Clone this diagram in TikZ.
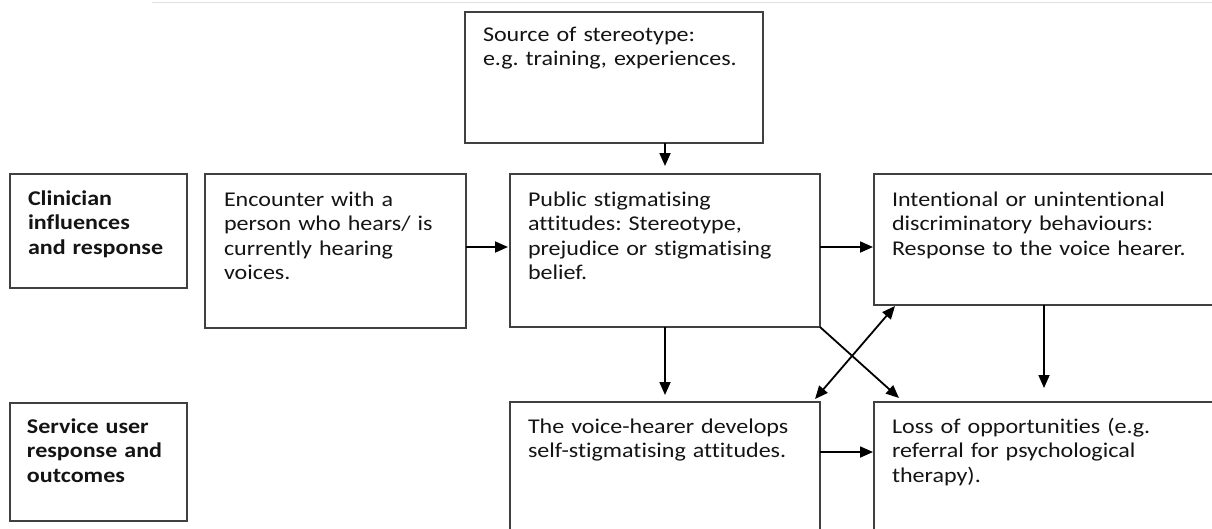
\documentclass[tikz,border=0pt]{standalone}
\usepackage{fontspec}
\setmainfont{Carlito}[FakeStretch=1.145, Ligatures=NoCommon]
\usetikzlibrary{arrows.meta,calc}
\tikzset{
  boxst/.style={draw=black!75, line width=1.2pt, anchor=north west, inner sep=0pt, outer sep=0pt},
  txt/.style={anchor=base west, inner sep=0pt, outer sep=0pt, align=left, text width=400pt,
    text=black!92, font=\fontsize{21}{24.5}\selectfont\frenchspacing},
  btxt/.style={txt, font=\fontsize{21}{24.5}\selectfont\frenchspacing\bfseries},
  arr/.style={line width=1.8pt, -{Triangle[length=13pt,width=11pt]}},
  darr/.style={line width=1.8pt, {Triangle[length=13pt,width=11pt]}-{Triangle[length=13pt,width=11pt]}}
}
\begin{document}
\begin{tikzpicture}[x=1pt,y=-1pt]
\useasboundingbox (0,0) rectangle (1212,528);
\clip (0,0) rectangle (1212,528);
% faint rule at the top
\draw[black!12, line width=1pt] (152,2) -- (1212,2);
% boxes
\node[boxst, minimum width=298pt, minimum height=131pt] (src) at (465,12) {};
\node[boxst, minimum width=177pt, minimum height=114pt] (clin) at (10,174) {};
\node[boxst, minimum width=261pt, minimum height=154pt] (enc) at (205,174) {};
\node[boxst, minimum width=310pt, minimum height=153pt] (pub) at (510,174) {};
\node[boxst, minimum width=360pt, minimum height=131pt] (intent) at (874,174) {};
\node[boxst, minimum width=177pt, minimum height=118pt] (serv) at (10,403) {};
\node[boxst, minimum width=310pt, minimum height=150pt] (voice) at (510,402) {};
\node[boxst, minimum width=360pt, minimum height=150pt] (loss) at (874,402) {};
% texts
\node[txt] (src-t) at ($(src.north west)+(18,29)$) {Source of stereotype:\\e.g. training, experiences.};
\node[btxt] (clin-t) at ($(clin.north west)+(18,31)$) {Clinician\\influences\\and response};
\node[txt] (enc-t) at ($(enc.north west)+(19,32)$) {Encounter with a\\person who hears/ is\\currently hearing\\voices.};
\node[txt] (pub-t) at ($(pub.north west)+(18,32)$) {Public stigmatising\\attitudes: Stereotype,\\prejudice or stigmatising\\belief.};
\node[txt] (intent-t) at ($(intent.north west)+(18,32)$) {Intentional or unintentional\\discriminatory behaviours:\\Response to the voice hearer.};
\node[btxt] (serv-t) at ($(serv.north west)+(17,30)$) {Service user\\response and\\outcomes};
\node[txt] (voice-t) at ($(voice.north west)+(18,31)$) {The voice-hearer develops\\self-stigmatising attitudes.};
\node[txt] (loss-t) at ($(loss.north west)+(18,31)$) {Loss of opportunities (e.g.\\referral for psychological\\therapy).};
% connector end points
\coordinate (e1) at ($(enc.north east)+(0,73)$);
\coordinate (p1) at ($(pub.north east)+(0,73)$);
\coordinate (v1) at ($(voice.north east)+(0,50)$);
\coordinate (iS) at ($(intent.south west)+(170,0)$);
\coordinate (lT) at ($(loss.north west)+(170,-14)$);
\coordinate (lC) at ($(loss.north west)+(25,-4)$);
\coordinate (iC) at ($(intent.south west)+(21,1)$);
\coordinate (vC) at ($(voice.north east)+(-5,-3)$);
% connectors
\draw[arr] (pub.north |- src.south) -- ([yshift=8pt]pub.north);
\draw[arr, shorten >=2pt] (e1) -- (e1 -| pub.west);
\draw[arr, shorten >=1pt] (p1) -- (p1 -| intent.west);
\draw[arr] (pub.south) -- ([yshift=7pt]voice.north);
\draw[arr] (iS) -- (lT);
\draw[arr, shorten >=1pt] (v1) -- (v1 -| loss.west);
\draw[arr] (pub.south east) -- (lC);
\draw[darr] (iC) -- (vC);
\end{tikzpicture}
\end{document}
